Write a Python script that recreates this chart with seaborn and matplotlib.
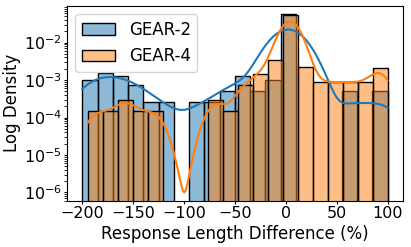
import numpy as np
import matplotlib
matplotlib.use("Agg")
import matplotlib.pyplot as plt
import seaborn as sns

# histogram counts (20 bins each)
gear2_range = (-200, 100)
gear2_counts = [4, 6, 5, 3, 1, 1, 0, 1, 1, 2, 5, 2, 4, 225, 0, 0, 0, 2, 0, 2]
gear4_range = (-194.5, 100)
gear4_counts = [1, 1, 2, 1, 1, 0, 0, 0, 2, 1, 5, 10, 23, 365, 15, 6, 6, 6, 6, 14]


def expand(rng, counts):
    # one value per observation, placed at its bin centre
    edges = np.linspace(rng[0], rng[1], len(counts) + 1)
    centres = (edges[:-1] + edges[1:]) / 2
    return np.repeat(centres, counts)


gear2 = expand(gear2_range, gear2_counts)
gear4 = expand(gear4_range, gear4_counts)

plt.rcParams['font.size'] = 12
fig, ax = plt.subplots(figsize=(4.11, 2.47), dpi=100)

sns.histplot(x=gear2, bins=20, binrange=gear2_range, stat='density', kde=True,
             color='C0', alpha=0.5, label='GEAR-2', ax=ax,
             kde_kws={'cut': 3, 'clip': gear2_range})
sns.histplot(x=gear4, bins=20, binrange=gear4_range, stat='density', kde=True,
             color='C1', alpha=0.5, label='GEAR-4', ax=ax,
             kde_kws={'cut': 3, 'clip': gear4_range, 'bw_adjust': 1.05})

ax.set_yscale('log')
ax.set_ylim(6e-7, 0.095)
ax.set_xlim(-215, 115)
ax.set_xticks([-200, -150, -100, -50, 0, 50, 100])
ax.tick_params(axis='both', which='major', length=2.5, pad=1, labelsize=11.5)
ax.set_xlabel('Response Length Difference (%)')
ax.set_ylabel('Log Density')
ax.yaxis.set_label_coords(-0.138, 0.5)
ax.xaxis.set_label_coords(0.5, -0.122)
ax.legend(loc='upper left')

fig.subplots_adjust(left=0.163, right=0.98, top=0.976, bottom=0.187)
fig.savefig('out.png', dpi=100)
